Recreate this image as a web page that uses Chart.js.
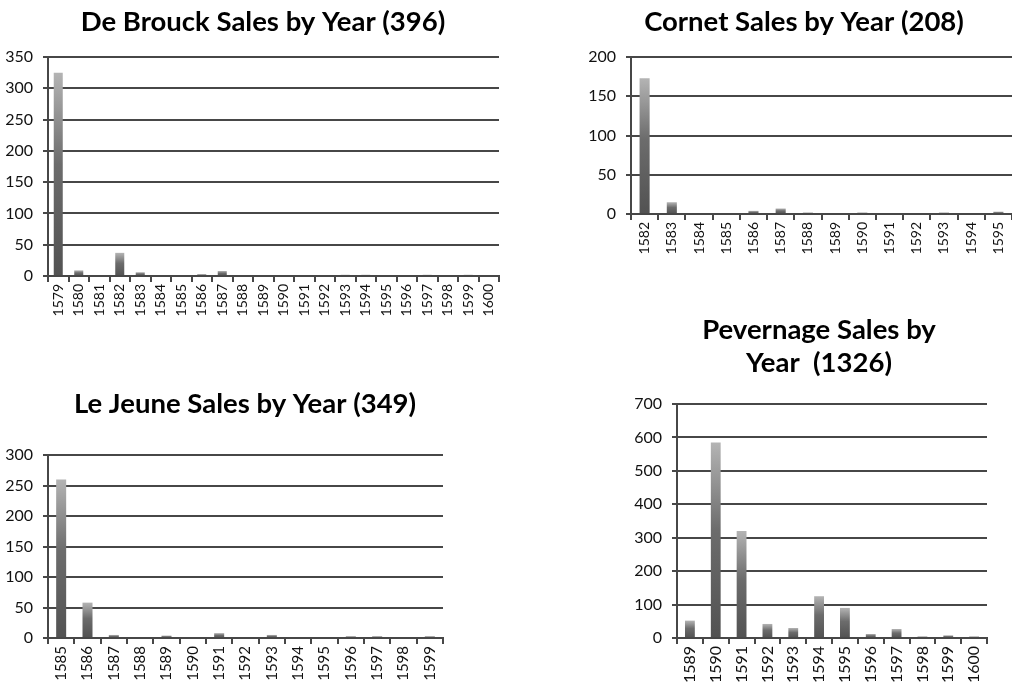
<!DOCTYPE html>
<html lang="en">
<head>
    <meta charset="UTF-8">
    <title>Sales by Year</title>
    <script src="https://cdn.jsdelivr.net/npm/chart.js"></script>
    <style>
        html, body {
            margin: 0;
            padding: 0;
            width: 1012px;
            height: 686px;
            overflow: hidden;
            background: #ffffff;
        }
        .box {
            position: absolute;
        }
    </style>
</head>
<body>
    <div class="box" style="left:0px;top:0px;width:526px;height:325px"><canvas id="deBrouck"></canvas></div>
    <div class="box" style="left:560px;top:0px;width:488px;height:260px"><canvas id="cornet"></canvas></div>
    <div class="box" style="left:0px;top:375px;width:490px;height:311px"><canvas id="leJeune"></canvas></div>
    <div class="box" style="left:626px;top:300px;width:386px;height:392px"><canvas id="pevernage"></canvas></div>
    <script>
        // Sales per year for each printer
        const deBrouckYears = ['1579', '1580', '1581', '1582', '1583', '1584', '1585', '1586', '1587', '1588', '1589',
            '1590', '1591', '1592', '1593', '1594', '1595', '1596', '1597', '1598', '1599', '1600'];
        const deBrouckSales = [325, 9, 0, 37, 6, 0, 0, 3, 8, 0, 0, 0, 0, 0, 2, 2, 0, 0, 2, 0, 2, 0];
        const deBrouckTicks = [0, 50, 100, 150, 200, 250, 300, 350];

        const cornetYears = ['1582', '1583', '1584', '1585', '1586', '1587', '1588', '1589', '1590', '1591', '1592',
            '1593', '1594', '1595'];
        const cornetSales = [173, 15, 0, 0, 4, 7, 2, 0, 2, 0, 0, 2, 0, 3];
        const cornetTicks = [0, 50, 100, 150, 200];

        const leJeuneYears = ['1585', '1586', '1587', '1588', '1589', '1590', '1591', '1592', '1593', '1594', '1595',
            '1596', '1597', '1598', '1599'];
        const leJeuneSales = [260, 58, 5, 0, 4, 0, 8, 0, 5, 0, 0, 3, 3, 0, 3];
        const leJeuneTicks = [0, 50, 100, 150, 200, 250, 300];

        const pevernageYears = ['1589', '1590', '1591', '1592', '1593', '1594', '1595', '1596', '1597', '1598', '1599', '1600'];
        const pevernageSales = [52, 585, 320, 42, 30, 125, 90, 12, 27, 5, 8, 5];
        const pevernageTicks = [0, 100, 200, 300, 400, 500, 600, 700];

        const lineColor = '#474747';

        // Shaded bar: light at the top, dark toward the baseline
        function barFill(ctx) {
            const chart = ctx.chart;
            const y = chart.scales.y;
            if (!chart.chartArea || !y || ctx.type !== 'data') return '#6a6a6a';
            const top = y.getPixelForValue(ctx.raw);
            const base = y.getPixelForValue(0);
            if (base - top < 1) return '#6a6a6a';
            const g = chart.ctx.createLinearGradient(0, top, 0, base);
            g.addColorStop(0, '#b4b4b4');
            g.addColorStop(0.45, '#6c6c6c');
            g.addColorStop(1, '#525252');
            return g;
        }

        function makeChart(id, o) {
            new Chart(document.getElementById(id), {
                type: 'bar',
                data: {
                    labels: o.labels,
                    datasets: [{
                        data: o.values,
                        backgroundColor: barFill,
                        borderWidth: 0,
                        barPercentage: 1,
                        categoryPercentage: o.barPct
                    }]
                },
                options: {
                    responsive: true,
                    maintainAspectRatio: false,
                    animation: false,
                    events: [],
                    layout: { padding: 0 },
                    plugins: {
                        legend: { display: false },
                        tooltip: { enabled: false },
                        title: {
                            display: true,
                            text: o.title,
                            color: '#000000',
                            font: { family: 'Lato', weight: 'bold', size: 27.5, lineHeight: o.titleLH },
                            padding: { top: o.titleTop, bottom: o.titleBottom }
                        }
                    },
                    scales: {
                        x: {
                            afterFit: s => { s.height = o.xHeight; },
                            grid: {
                                offset: true,
                                drawOnChartArea: false,
                                drawTicks: true,
                                tickLength: 6,
                                color: lineColor,
                                lineWidth: 2
                            },
                            border: { display: true, color: lineColor, width: 2 },
                            ticks: {
                                autoSkip: false,
                                maxRotation: 90,
                                minRotation: 90,
                                padding: 2,
                                color: '#111111',
                                font: { family: 'Lato', size: o.xFont }
                            }
                        },
                        y: {
                            min: 0,
                            max: o.ticks[o.ticks.length - 1],
                            afterFit: s => { s.width = o.yWidth; },
                            afterBuildTicks: s => { s.ticks = o.ticks.map(v => ({ value: v })); },
                            grid: {
                                drawTicks: true,
                                tickLength: 5,
                                color: lineColor,
                                lineWidth: 2
                            },
                            border: { display: true, color: lineColor, width: 2 },
                            ticks: {
                                padding: 10,
                                color: '#111111',
                                font: { family: 'Lato', size: 16 }
                            }
                        },
                        // empty right-hand strip so the title stays centred on the whole canvas
                        spacer: {
                            type: 'linear',
                            position: 'right',
                            afterFit: s => { s.width = o.padRight; },
                            grid: { display: false },
                            border: { display: false },
                            ticks: { display: false }
                        }
                    }
                }
            });
        }

        makeChart('deBrouck', {
            title: 'De Brouck Sales by Year (396)',
            labels: deBrouckYears, values: deBrouckSales, ticks: deBrouckTicks,
            barPct: 0.44, padRight: 27, yWidth: 48, xHeight: 49,
            titleLH: 1.2, titleTop: 6, titleBottom: 18, xFont: 14
        });

        makeChart('cornet', {
            title: 'Cornet Sales by Year (208)',
            labels: cornetYears, values: cornetSales, ticks: cornetTicks,
            barPct: 0.37, padRight: 36, yWidth: 71, xHeight: 46,
            titleLH: 1.2, titleTop: 6, titleBottom: 18, xFont: 14
        });

        makeChart('leJeune', {
            title: 'Le Jeune Sales by Year (349)',
            labels: leJeuneYears, values: leJeuneSales, ticks: leJeuneTicks,
            barPct: 0.38, padRight: 47, yWidth: 48, xHeight: 48,
            titleLH: 1.2, titleTop: 13, titleBottom: 34, xFont: 15
        });

        makeChart('pevernage', {
            title: ['Pevernage Sales by', 'Year  (1326)'],
            labels: pevernageYears, values: pevernageSales, ticks: pevernageTicks,
            barPct: 0.38, padRight: 25, yWidth: 51, xHeight: 54,
            titleLH: 1.2, titleTop: 14, titleBottom: 24, xFont: 16
        });
    </script>
</body>
</html>
